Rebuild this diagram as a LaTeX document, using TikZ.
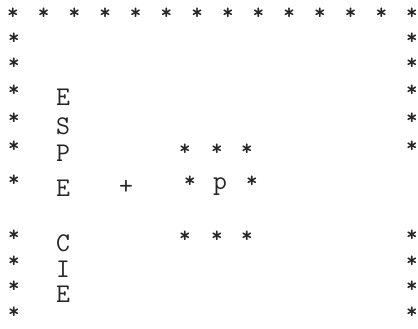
\documentclass[tikz,border=0pt]{standalone}
\usetikzlibrary{positioning}
\begin{document}
\begin{tikzpicture}[x=1pt,y=-1pt,
    ast/.style={font=\ttfamily\bfseries\fontsize{22}{22}\selectfont,inner sep=0pt,text=black!85},
    lett/.style={font=\ttfamily\fontsize{27}{27}\selectfont,inner sep=0pt,text=black!85}]
  \useasboundingbox (0,0) rectangle (418,329);
  % top row of the frame
  \foreach \i in {0,...,13} \node[ast] (top\i) at (13+\i*30.69,14) {*};
  % left and right sides
  \foreach \i/\y in {1/39,2/64,3/91,4/119,5/147,6/181,7/236,8/262,9/287,10/313}
    \node[ast] (left\i) at (14,\y) {*};
  \foreach \i/\y in {1/39,2/64,3/91,4/119,5/147,7/236,8/262,9/287,10/313}
    \node[ast] (right\i) at (412,\y) {*};
  % the word down the left
  \foreach \i/\y/\s in {3/97/E,4/126/S,5/153/P,6/188/E,7/243/C,8/269/I,9/294/E}
    \node[lett] (word\i) at (63,\y) {\s};
  \node[lett] (plus) at (126,187) {+};
  % the little ring of stars round p
  \foreach \i/\x in {1/185,2/217,3/247} {
    \node[ast] (ringtop\i) at (\x,150) {*};
    \node[ast] (ringbot\i) at (\x,237) {*};
  }
  \node[ast] (ringleft) at (190,182) {*};
  \node[ast] (ringright) at (252,182) {*};
  \node[lett] (pee) at (220,187) {p};
\end{tikzpicture}
\end{document}
